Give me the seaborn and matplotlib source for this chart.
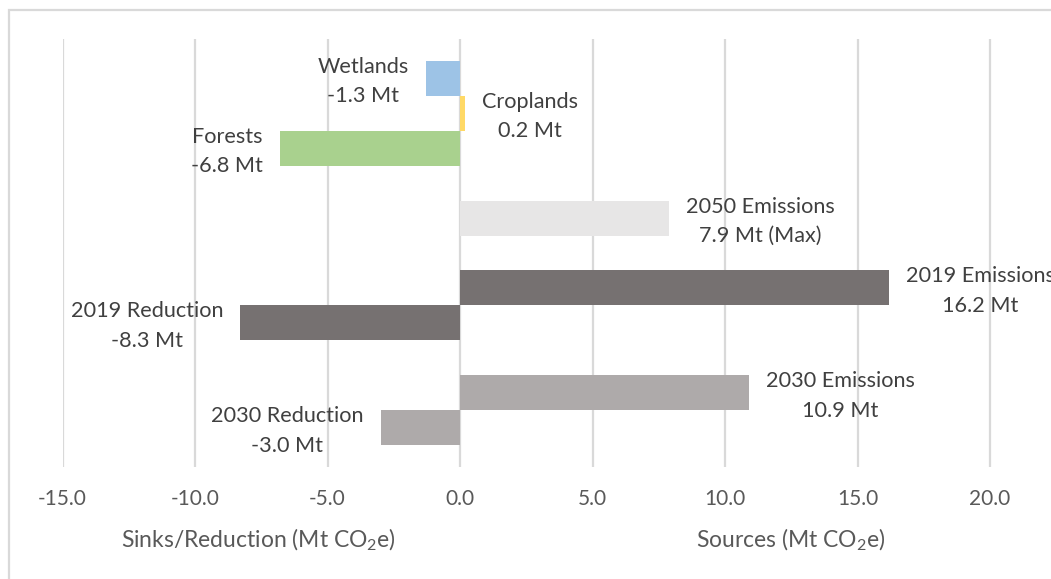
import matplotlib
matplotlib.use("Agg")
import matplotlib.pyplot as plt
import seaborn as sns
import pandas as pd
from matplotlib.patches import Rectangle

# ---- data ----
names = ["Wetlands", "Croplands", "Forests", "2050 Emissions",
         "2019 Emissions", "2019 Reduction", "2030 Emissions", "2030 Reduction"]
values = [-1.3, 0.2, -6.8, 7.9, 16.2, -8.3, 10.9, -3.0]
suffix = ["", "", "", " (Max)", "", "", "", ""]
colors = ["#9DC3E6", "#FFD966", "#A9D18E", "#E7E6E6",
          "#767171", "#767171", "#AEAAAA", "#AEAAAA"]
slot_order = ["Wetlands", "Croplands", "Forests", " gap1", "2050 Emissions", " gap2",
              "2019 Emissions", "2019 Reduction", " gap3", "2030 Emissions", "2030 Reduction"]
xticks = [-15, -10, -5, 0, 5, 10, 15, 20]
left_title = r"Sinks/Reduction (Mt CO$_2$e)"
right_title = r"Sources (Mt CO$_2$e)"

FONT = "Lato"
sns.set_theme(style="white")
plt.rcParams["font.family"] = [FONT, "DejaVu Sans"]
plt.rcParams["mathtext.fontset"] = "custom"
plt.rcParams["mathtext.rm"] = FONT
plt.rcParams["mathtext.it"] = FONT
plt.rcParams["mathtext.default"] = "rm"

W, H = 1051, 579
fig = plt.figure(figsize=(W / 100, H / 100), dpi=100)
fig.patch.set_facecolor("white")

# axes: x=-15 at 62.5px, 26.5 px per unit
x0px, ppu = 62.5, 26.5
xmin, xmax = -15, 25
top_px, bot_px = 39, 467
ax = fig.add_axes([x0px / W, (H - bot_px) / H, (xmax - xmin) * ppu / W, (bot_px - top_px) / H])

df = pd.DataFrame({"name": names, "value": values})
sns.barplot(data=df, x="value", y="name", hue="name", order=slot_order,
            hue_order=names, palette=dict(zip(names, colors)), orient="h",
            width=1.0, dodge=False, legend=False, ax=ax, saturation=1.0, linewidth=0)

ax.set_xlim(xmin, xmax)
ax.set_ylim(11.123, -1.123)
ax.set_xticks(xticks)
ax.set_xticklabels([f"{t:.1f}" for t in xticks], fontsize=15, color="#595959")
ax.tick_params(axis="x", length=0, pad=16)
ax.set_yticks([])
ax.set_xlabel("")
ax.set_ylabel("")
for s in ax.spines.values():
    s.set_visible(False)
ax.grid(axis="x", color="#D9D9D9", linewidth=1.6)
ax.set_axisbelow(True)

# data labels
pos = {n: i for i, n in enumerate(slot_order)}
for n, v, sfx in zip(names, values, suffix):
    txt = f"{n}\n{v:.1f} Mt{sfx}"
    off = 12.2 if v >= 0 else -12.2
    ax.annotate(txt, xy=(v, pos[n]), xytext=(off, -2.4), textcoords="offset points",
                ha="left" if v >= 0 else "right", va="center", multialignment="center",
                fontsize=15.6, color="#404040", linespacing=1.6, annotation_clip=False)

# axis titles
fig.text(258 / W, 1 - 540 / H, left_title, ha="center", va="center", fontsize=16.5, color="#595959")
fig.text(791 / W, 1 - 540 / H, right_title, ha="center", va="center", fontsize=16.5, color="#595959")

# chart area border
fig.add_artist(Rectangle((8.5 / W, -0.05), 1.2, (H - 10) / H + 0.05, transform=fig.transFigure,
                         fill=False, edgecolor="#D9D9D9", linewidth=1.6))

fig.savefig("out.png", dpi=100)
